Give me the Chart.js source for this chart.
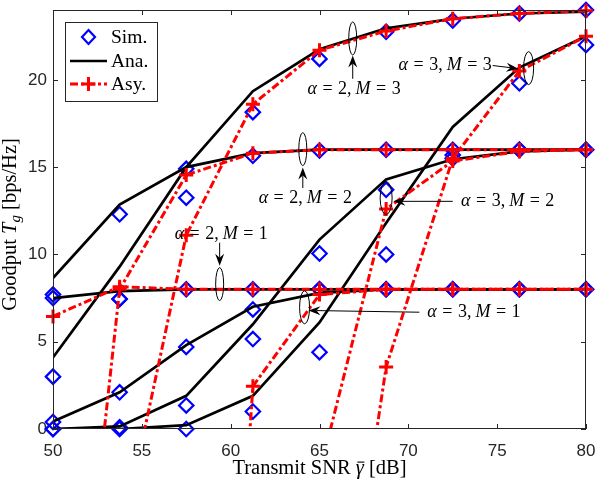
<!DOCTYPE html>
<html><head><meta charset="utf-8">
<script src="https://cdn.jsdelivr.net/npm/chart.js@4.4.1/dist/chart.umd.min.js"></script>
<style>html,body{margin:0;padding:0;background:#fff;overflow:hidden}</style>
</head><body>
<canvas id="c" width="596" height="482" style="display:block;width:596px;height:482px"></canvas>
<script>
// ---------------- data ----------------
const snr = [50, 53.75, 57.5, 61.25, 65, 68.75, 72.5, 76.25, 80];
const xTicks = [50, 55, 60, 65, 70, 75, 80];
const yTicks = [0, 5, 10, 15, 20];

// Simulation (markers)
const sim_a2_m1 = [7.7, 7.45, 8.0, 8.0, 8.0, 8.0, 8.0, 8.0, 8.0];
const sim_a2_m2 = [7.5, 12.3, 13.25, 15.65, 15.95, 16.0, 16.0, 16.0, 16.0];
const sim_a2_m3 = [3.0, 7.45, 14.9, 18.15, 21.2, 22.75, 23.4, 23.8, 24.0];
const sim_a3_m1 = [0.4, 2.1, 4.7, 6.85, 8.0, 8.0, 8.0, 8.0, 8.0];
const sim_a3_m2 = [0.0, 0.1, 1.35, 5.15, 10.05, 13.7, 15.5, 16.0, 16.0];
const sim_a3_m3 = [0.0, 0.0, 0.0, 1.0, 4.4, 10.0, 15.7, 19.8, 22.0];

// Analytical (solid black)
const ana_a2_m1 = [7.5, 7.9, 8.0, 8.0, 8.0, 8.0, 8.0, 8.0, 8.0];
const ana_a2_m2 = [8.65, 12.85, 15.0, 15.8, 16.0, 16.0, 16.0, 16.0, 16.0];
const ana_a2_m3 = [4.1, 9.3, 15.0, 19.35, 21.75, 22.95, 23.5, 23.8, 23.9];
const ana_a3_m1 = [0.43, 2.1, 4.8, 7.0, 7.8, 8.0, 8.0, 8.0, 8.0];
const ana_a3_m2 = [0.0, 0.15, 1.9, 6.0, 10.85, 14.3, 15.45, 15.9, 16.0];
const ana_a3_m3 = [0.0, 0.0, 0.22, 1.9, 6.1, 11.8, 17.3, 20.7, 22.5];

// Asymptotic (red dash-dot, +)
const asy_a2_m1 = [6.45, 8.15, 8.0, 8.0, 8.0, 8.0, 8.0, 8.0, 8.0];
const asy_a2_m2 = [-27, 8.0, 14.55, 15.8, 16.0, 16.0, 16.0, 16.0, 16.0];
const asy_a2_m3 = [-24, -6.7, 11.1, 18.6, 21.7, 22.8, 23.5, 23.8, 23.95];
const asy_a3_m1 = [-150, -100, -55, 2.45, 7.7, 8.0, 8.0, 8.0, 8.0];
const asy_a3_m2 = [-150, -100, -60, -20, -2.5, 12.6, 15.35, 15.9, 16.0];
const asy_a3_m3 = [-150, -100, -60, -40, -22, 3.55, 15.5, 20.5, 22.5];

const legendLabels = ['Sim.', 'Ana.', 'Asy.'];
const xTitle = 'Transmit SNR';
const yTitle = 'Goodput';

// annotations (data coordinates): ellipse centre, arrow from / to, label anchor
const notes = [
  {a:'2', m:'3', ex:66.87, ey:22.37, rx:4, fx:66.87, fy:20.06, tx:66.87, ty:21.40, lx:66.95, ly:19.45, al:'center'},
  {a:'3', m:'3', ex:76.77, ey:20.67, rx:5, fx:74.75, fy:20.82, tx:76.19, ty:20.64, lx:74.70, ly:20.82, al:'right'},
  {a:'2', m:'2', ex:64.06, ey:16.03, rx:4, fx:64.06, fy:13.80, tx:64.06, ty:14.98, lx:64.20, ly:13.23, al:'center'},
  {a:'2', m:'1', ex:59.38, ey:8.30, rx:4, fx:59.38, fy:10.67, tx:59.38, ty:9.35, lx:59.47, ly:11.18, al:'center'},
  {a:'3', m:'2', ex:68.75, ey:13.23, rx:6, fx:72.50, fy:13.04, tx:69.16, ty:13.04, lx:72.97, ly:13.04, al:'left'},
  {a:'3', m:'1', ex:64.16, ey:6.97, rx:5, fx:70.62, fy:6.69, tx:64.38, ty:6.79, lx:71.07, ly:6.69, al:'left'}
];

// ---------------- build datasets ----------------
const groups = [
  [sim_a2_m1, ana_a2_m1, asy_a2_m1],
  [sim_a2_m2, ana_a2_m2, asy_a2_m2],
  [sim_a2_m3, ana_a2_m3, asy_a2_m3],
  [sim_a3_m1, ana_a3_m1, asy_a3_m1],
  [sim_a3_m2, ana_a3_m2, asy_a3_m2],
  [sim_a3_m3, ana_a3_m3, asy_a3_m3]
];
const pts = arr => snr.map((x, i) => ({x: x, y: arr[i]}));
const datasets = [];
groups.forEach(g => {
  datasets.push({label: 'Sim.', data: pts(g[0]), showLine: false, pointStyle: 'rectRot',
    pointRadius: 7.2, pointBorderWidth: 2.2, pointBorderColor: '#0000ff', borderColor: '#0000ff',
    pointBackgroundColor: 'rgba(0,0,0,0)', backgroundColor: 'rgba(0,0,0,0)', order: 3, clip: false});
  datasets.push({label: 'Ana.', data: pts(g[1]), showLine: true, borderColor: '#000000', borderWidth: 2.7,
    pointRadius: 0, tension: 0, order: 2});
  datasets.push({label: 'Asy.', data: pts(g[2]), showLine: true, borderColor: '#ff0000', borderWidth: 3,
    borderDash: [8, 3, 3, 3], pointStyle: 'cross', pointRadius: 7, pointBorderWidth: 3,
    pointBorderColor: '#ff0000', tension: 0, order: 1, clip: {left: 14, right: 14, top: 14, bottom: 0}});
});

// ---------------- helpers ----------------
const SERIF = '"Liberation Serif", "Times New Roman", serif';
function fnt(sz, it) { return (it ? 'italic ' : '') + sz + 'px ' + SERIF; }
function drawRich(ctx, segs, x, y, align, size) {
  let w = 0;
  const ms = segs.map(s => {
    const sz = s.size || size; ctx.font = fnt(sz, s.it);
    const mw = ctx.measureText(s.t).width; const g = s.gap || 0; w += mw + g;
    return {s: s, sz: sz, mw: mw, g: g};
  });
  let cx = align === 'center' ? x - w / 2 : (align === 'right' ? x - w : x);
  ctx.textAlign = 'left';
  ms.forEach(m => {
    cx += m.g; ctx.font = fnt(m.sz, m.s.it);
    ctx.fillText(m.s.t, cx, y + (m.s.dy || 0));
    if (m.s.bar) {
      ctx.save(); ctx.lineWidth = 1.1; ctx.strokeStyle = ctx.fillStyle;
      ctx.beginPath(); ctx.moveTo(cx + 1.5, y - m.sz * 0.58); ctx.lineTo(cx + m.mw + 0.5, y - m.sz * 0.58); ctx.stroke();
      ctx.restore();
    }
    cx += m.mw;
  });
  return w;
}
function mathLabel(a, m) {
  const G = 5.5;
  return [{t: 'α', it: true}, {t: '=', gap: G}, {t: a, gap: G}, {t: ','}, {t: 'M', it: true, gap: 4},
          {t: '=', gap: G}, {t: m, gap: G}];
}
function arrow(ctx, x1, y1, x2, y2) {
  const ang = Math.atan2(y2 - y1, x2 - x1);
  const L = 12, W = 4.5, N = 8;
  ctx.beginPath(); ctx.moveTo(x1, y1);
  ctx.lineTo(x2 - Math.cos(ang) * N, y2 - Math.sin(ang) * N); ctx.stroke();
  const px = -Math.sin(ang), py = Math.cos(ang);
  ctx.beginPath();
  ctx.moveTo(x2, y2);
  ctx.lineTo(x2 - Math.cos(ang) * L + px * W, y2 - Math.sin(ang) * L + py * W);
  ctx.lineTo(x2 - Math.cos(ang) * N, y2 - Math.sin(ang) * N);
  ctx.lineTo(x2 - Math.cos(ang) * L - px * W, y2 - Math.sin(ang) * L - py * W);
  ctx.closePath(); ctx.fill();
}

const deco = {
  id: 'deco',
  afterDatasetsDraw(chart) {
    const ctx = chart.ctx, ca = chart.chartArea, xs = chart.scales.x, ys = chart.scales.y;
    ctx.save();
    // box and inward ticks
    ctx.strokeStyle = '#262626'; ctx.lineWidth = 1;
    ctx.strokeRect(ca.left + 0.5, ca.top + 0.5, ca.right - ca.left - 1, ca.bottom - ca.top - 1);
    const TL = 5;
    ctx.beginPath();
    xTicks.forEach(v => {
      const px = Math.round(xs.getPixelForValue(v)) + 0.5;
      ctx.moveTo(px, ca.bottom); ctx.lineTo(px, ca.bottom - TL);
      ctx.moveTo(px, ca.top); ctx.lineTo(px, ca.top + TL);
    });
    yTicks.forEach(v => {
      const py = Math.round(ys.getPixelForValue(v)) + 0.5;
      ctx.moveTo(ca.left, py); ctx.lineTo(ca.left + TL, py);
      ctx.moveTo(ca.right, py); ctx.lineTo(ca.right - TL, py);
    });
    ctx.stroke();

    // annotations
    ctx.strokeStyle = '#000'; ctx.fillStyle = '#000'; ctx.lineWidth = 1;
    ctx.textBaseline = 'middle';
    notes.forEach(n => {
      const ex = xs.getPixelForValue(n.ex), ey = ys.getPixelForValue(n.ey);
      ctx.beginPath(); ctx.ellipse(ex, ey, n.rx, 16.5, 0, 0, Math.PI * 2); ctx.stroke();
      arrow(ctx, xs.getPixelForValue(n.fx), ys.getPixelForValue(n.fy), xs.getPixelForValue(n.tx), ys.getPixelForValue(n.ty));
      drawRich(ctx, mathLabel(n.a, n.m), xs.getPixelForValue(n.lx), ys.getPixelForValue(n.ly), n.al, 18);
    });

    // legend
    const lx = ca.left + 12, ly = ca.top + 12, lw = 92, lh = 79;
    ctx.fillStyle = '#fff'; ctx.fillRect(lx, ly, lw, lh);
    ctx.strokeStyle = '#262626'; ctx.lineWidth = 1; ctx.strokeRect(lx + 0.5, ly + 0.5, lw, lh);
    const rows = [ly + 15, ly + 39, ly + 62];
    const s0 = lx + 5, s1 = lx + 42, sc = (s0 + s1) / 2;
    // Sim
    ctx.strokeStyle = '#0000ff'; ctx.lineWidth = 2.2;
    ctx.beginPath(); ctx.moveTo(sc, rows[0] - 7); ctx.lineTo(sc + 6.5, rows[0]); ctx.lineTo(sc, rows[0] + 7);
    ctx.lineTo(sc - 6.5, rows[0]); ctx.closePath(); ctx.stroke();
    // Ana
    ctx.strokeStyle = '#000'; ctx.lineWidth = 2.7;
    ctx.beginPath(); ctx.moveTo(s0, rows[1]); ctx.lineTo(s1, rows[1]); ctx.stroke();
    // Asy
    ctx.strokeStyle = '#ff0000'; ctx.lineWidth = 3; ctx.setLineDash([8, 3, 3, 3]);
    ctx.beginPath(); ctx.moveTo(s0, rows[2]); ctx.lineTo(s1, rows[2]); ctx.stroke();
    ctx.setLineDash([]);
    ctx.beginPath(); ctx.moveTo(sc - 7, rows[2]); ctx.lineTo(sc + 7, rows[2]);
    ctx.moveTo(sc, rows[2] - 7); ctx.lineTo(sc, rows[2] + 7); ctx.stroke();
    ctx.fillStyle = '#000'; ctx.font = fnt(19.5, false); ctx.textAlign = 'left';
    legendLabels.forEach((t, i) => ctx.fillText(t, lx + 46, rows[i] + 1));

    // axis titles
    ctx.fillStyle = '#000'; ctx.textBaseline = 'alphabetic';
    drawRich(ctx, [{t: xTitle + ' '}, {t: 'γ', it: true, bar: true}, {t: ' [dB]'}],
             (ca.left + ca.right) / 2, 474, 'center', 20.5);
    ctx.translate(16, (ca.top + ca.bottom) / 2 + 5);
    ctx.rotate(-Math.PI / 2);
    drawRich(ctx, [{t: yTitle + ' '}, {t: 'T', it: true}, {t: 'g', it: true, size: 15, dy: 4}, {t: ' [bps/Hz]'}],
             0, 0, 'center', 20.5);
    ctx.restore();
  }
};

const tickFont = {family: '"Liberation Sans", Arial, sans-serif', size: 17};
new Chart(document.getElementById('c'), {
  type: 'scatter',
  data: {datasets: datasets},
  options: {
    responsive: false, animation: false, events: [],
    layout: {padding: {top: 7, right: 9, left: 0, bottom: 0}},
    plugins: {legend: {display: false}, tooltip: {enabled: false}},
    scales: {
      x: {type: 'linear', min: 50, max: 80,
        ticks: {stepSize: 5, font: tickFont, color: '#262626', padding: 12, maxRotation: 0},
        afterBuildTicks: s => { s.ticks = xTicks.map(v => ({value: v})); },
        grid: {display: false, drawTicks: false}, border: {display: false},
        afterFit: s => { s.height = 53; s.paddingLeft = 0; s.paddingRight = 0; }},
      y: {type: 'linear', min: 0, max: 24,
        ticks: {stepSize: 5, font: tickFont, color: '#262626', padding: 6},
        afterBuildTicks: s => { s.ticks = yTicks.map(v => ({value: v})); },
        grid: {display: false, drawTicks: false}, border: {display: false},
        afterFit: s => { s.width = 53; s.paddingTop = 0; s.paddingBottom = 0; }}
    }
  },
  plugins: [deco]
});
</script>
</body></html>
